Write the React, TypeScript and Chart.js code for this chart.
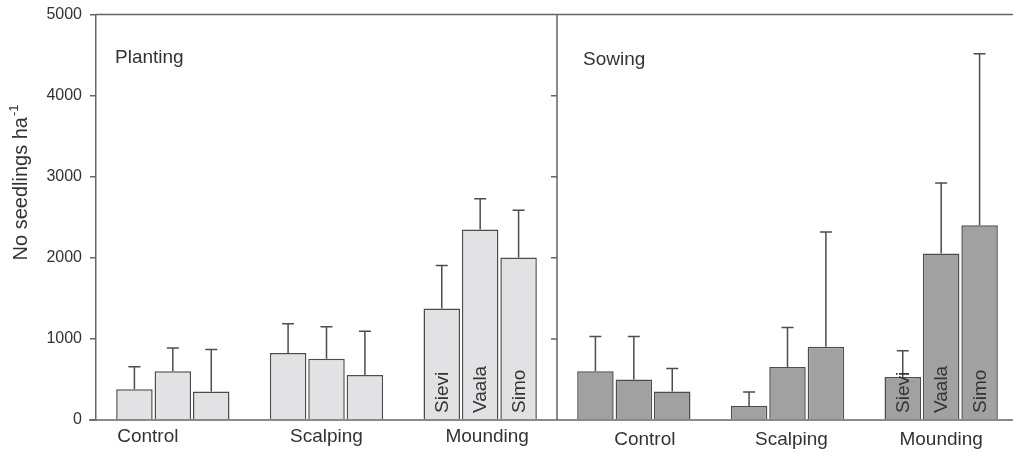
import React, { useEffect, useRef } from "react";
import { Chart, registerables } from "chart.js";

Chart.register(...registerables);

const categories = ["Control", "Scalping", "Mounding", "Control", "Scalping", "Mounding"];
const panels = ["Planting", "Sowing"];
const provenances = ["Sievi", "Vaala", "Simo"];
const yTicks = [0, 1000, 2000, 3000, 4000, 5000];

const sieviMean = [378, 825, 1375, 600, 172, 530];
const vaalaMean = [600, 755, 2348, 501, 653, 2053];
const simoMean = [353, 554, 2003, 353, 903, 2401];

const sieviErr = [278, 361, 530, 431, 173, 324];
const vaalaErr = [287, 394, 382, 530, 488, 869];
const simoErr = [517, 542, 583, 283, 1416, 2115];

const FONT = "'Liberation Sans', Arial, Helvetica, sans-serif";
const LIGHT = "#e2e2e4";
const DARK = "#a1a1a1";
const EDGE = "#4d4d4d";
const LINE = "#666666";
const TEXT = "#333333";

// canvas is shifted up by SHIFT px so the plot top lands at y=14 on the page
const SHIFT = 3;
const labelDx = [-25, 0, 7, 11, 4, 0];
const labelDy = [437, 437, 437, 440, 440, 440];

const overlayPlugin = {
  id: "overlay",
  afterDatasetsDraw(chart: any) {
    const { ctx, chartArea, scales } = chart;
    const x = scales.x;
    const y = scales.y;
    const errs = [sieviErr, vaalaErr, simoErr];
    ctx.save();
    // error bars
    ctx.strokeStyle = EDGE;
    ctx.lineWidth = 1.5;
    chart.data.datasets.forEach((ds: any, di: number) => {
      const meta = chart.getDatasetMeta(di);
      meta.data.forEach((bar: any, i: number) => {
        const v = ds.data[i];
        const top = y.getPixelForValue(v + errs[di][i]);
        const base = y.getPixelForValue(v);
        ctx.beginPath();
        ctx.moveTo(bar.x, base);
        ctx.lineTo(bar.x, top);
        ctx.moveTo(bar.x - 6, top);
        ctx.lineTo(bar.x + 6, top);
        ctx.stroke();
      });
    });
    // frame lines
    const mid = (x.getPixelForValue(2) + x.getPixelForValue(3)) / 2;
    ctx.strokeStyle = LINE;
    ctx.lineWidth = 1.5;
    ctx.beginPath();
    ctx.moveTo(chartArea.left, chartArea.top);
    ctx.lineTo(chart.width, chartArea.top);
    ctx.moveTo(89, chartArea.bottom);
    ctx.lineTo(chart.width, chartArea.bottom);
    ctx.moveTo(mid, chartArea.top);
    ctx.lineTo(mid, chartArea.bottom);
    yTicks.slice(1, -1).forEach((t) => {
      const py = y.getPixelForValue(t);
      ctx.moveTo(mid - 6, py);
      ctx.lineTo(mid, py);
    });
    ctx.stroke();
    // provenance labels inside the mounding bars
    ctx.fillStyle = TEXT;
    ctx.font = `19px ${FONT}`;
    ctx.textAlign = "left";
    ctx.textBaseline = "middle";
    [2, 5].forEach((ci) => {
      chart.data.datasets.forEach((ds: any, di: number) => {
        const bar = chart.getDatasetMeta(di).data[ci];
        ctx.save();
        ctx.translate(bar.x + 1, chartArea.bottom - 7);
        ctx.rotate(-Math.PI / 2);
        ctx.fillText(provenances[di], 0, 0);
        ctx.restore();
      });
    });
    // category labels
    ctx.textAlign = "center";
    ctx.textBaseline = "middle";
    categories.forEach((c, i) => {
      ctx.fillText(c, x.getPixelForValue(i) + labelDx[i], labelDy[i] + SHIFT);
    });
    // panel titles
    ctx.textAlign = "left";
    ctx.textBaseline = "alphabetic";
    ctx.fillText(panels[0], 115, 63 + SHIFT);
    ctx.fillText(panels[1], 583, 65 + SHIFT);
    // y axis title
    ctx.save();
    ctx.translate(27, 183 + SHIFT);
    ctx.rotate(-Math.PI / 2);
    const main = "No seedlings ha";
    ctx.font = `20px ${FONT}`;
    const w1 = ctx.measureText(main).width;
    ctx.font = `13px ${FONT}`;
    const w2 = ctx.measureText("-1").width;
    const start = -(w1 + w2) / 2;
    ctx.font = `20px ${FONT}`;
    ctx.textAlign = "left";
    ctx.fillText(main, start, 0);
    ctx.font = `13px ${FONT}`;
    ctx.fillText("-1", start + w1 + 1, -9);
    ctx.restore();
    ctx.restore();
  },
};

export default function App() {
  const ref = useRef<HTMLCanvasElement | null>(null);
  useEffect(() => {
    if (!ref.current) return;
    const colors = categories.map((_, i) => (i < 3 ? LIGHT : DARK));
    const chart = new Chart(ref.current, {
      type: "bar",
      data: {
        labels: categories.map((c, i) => `${panels[i < 3 ? 0 : 1]} ${c}`),
        datasets: [sieviMean, vaalaMean, simoMean].map((d, di) => ({
          label: provenances[di],
          data: d,
          backgroundColor: colors,
          borderColor: EDGE,
          borderWidth: 1.5,
          barPercentage: 0.95,
          categoryPercentage: 0.75,
        })),
      },
      options: {
        animation: false,
        responsive: true,
        maintainAspectRatio: false,
        layout: { padding: { top: 11, left: 0, right: 0, bottom: 0 } },
        plugins: { legend: { display: false }, tooltip: { enabled: false } },
        scales: {
          x: {
            ticks: { display: false },
            grid: { display: false },
            border: { display: false },
            afterFit: (s: any) => {
              s.height = 32;
            },
          },
          y: {
            min: 0,
            max: 5000,
            ticks: {
              stepSize: 1000,
              color: TEXT,
              font: { family: FONT, size: 16 },
              padding: 8,
              callback: (v: any) => String(v),
            },
            grid: {
              drawOnChartArea: false,
              tickLength: 6,
              color: LINE,
              lineWidth: 1.5,
            },
            border: { display: true, color: LINE, width: 1.5 },
            afterFit: (s: any) => {
              s.width = 96;
            },
          },
        },
      },
      plugins: [overlayPlugin],
    });
    return () => chart.destroy();
  }, []);
  return (
    <div style={{ position: "absolute", left: 0, top: 0, width: 1013, height: 452, overflow: "hidden", background: "#fff" }}>
      <div style={{ position: "absolute", left: 0, top: -SHIFT, width: 1018, height: 452 + SHIFT }}>
        <canvas ref={ref} />
      </div>
    </div>
  );
}
